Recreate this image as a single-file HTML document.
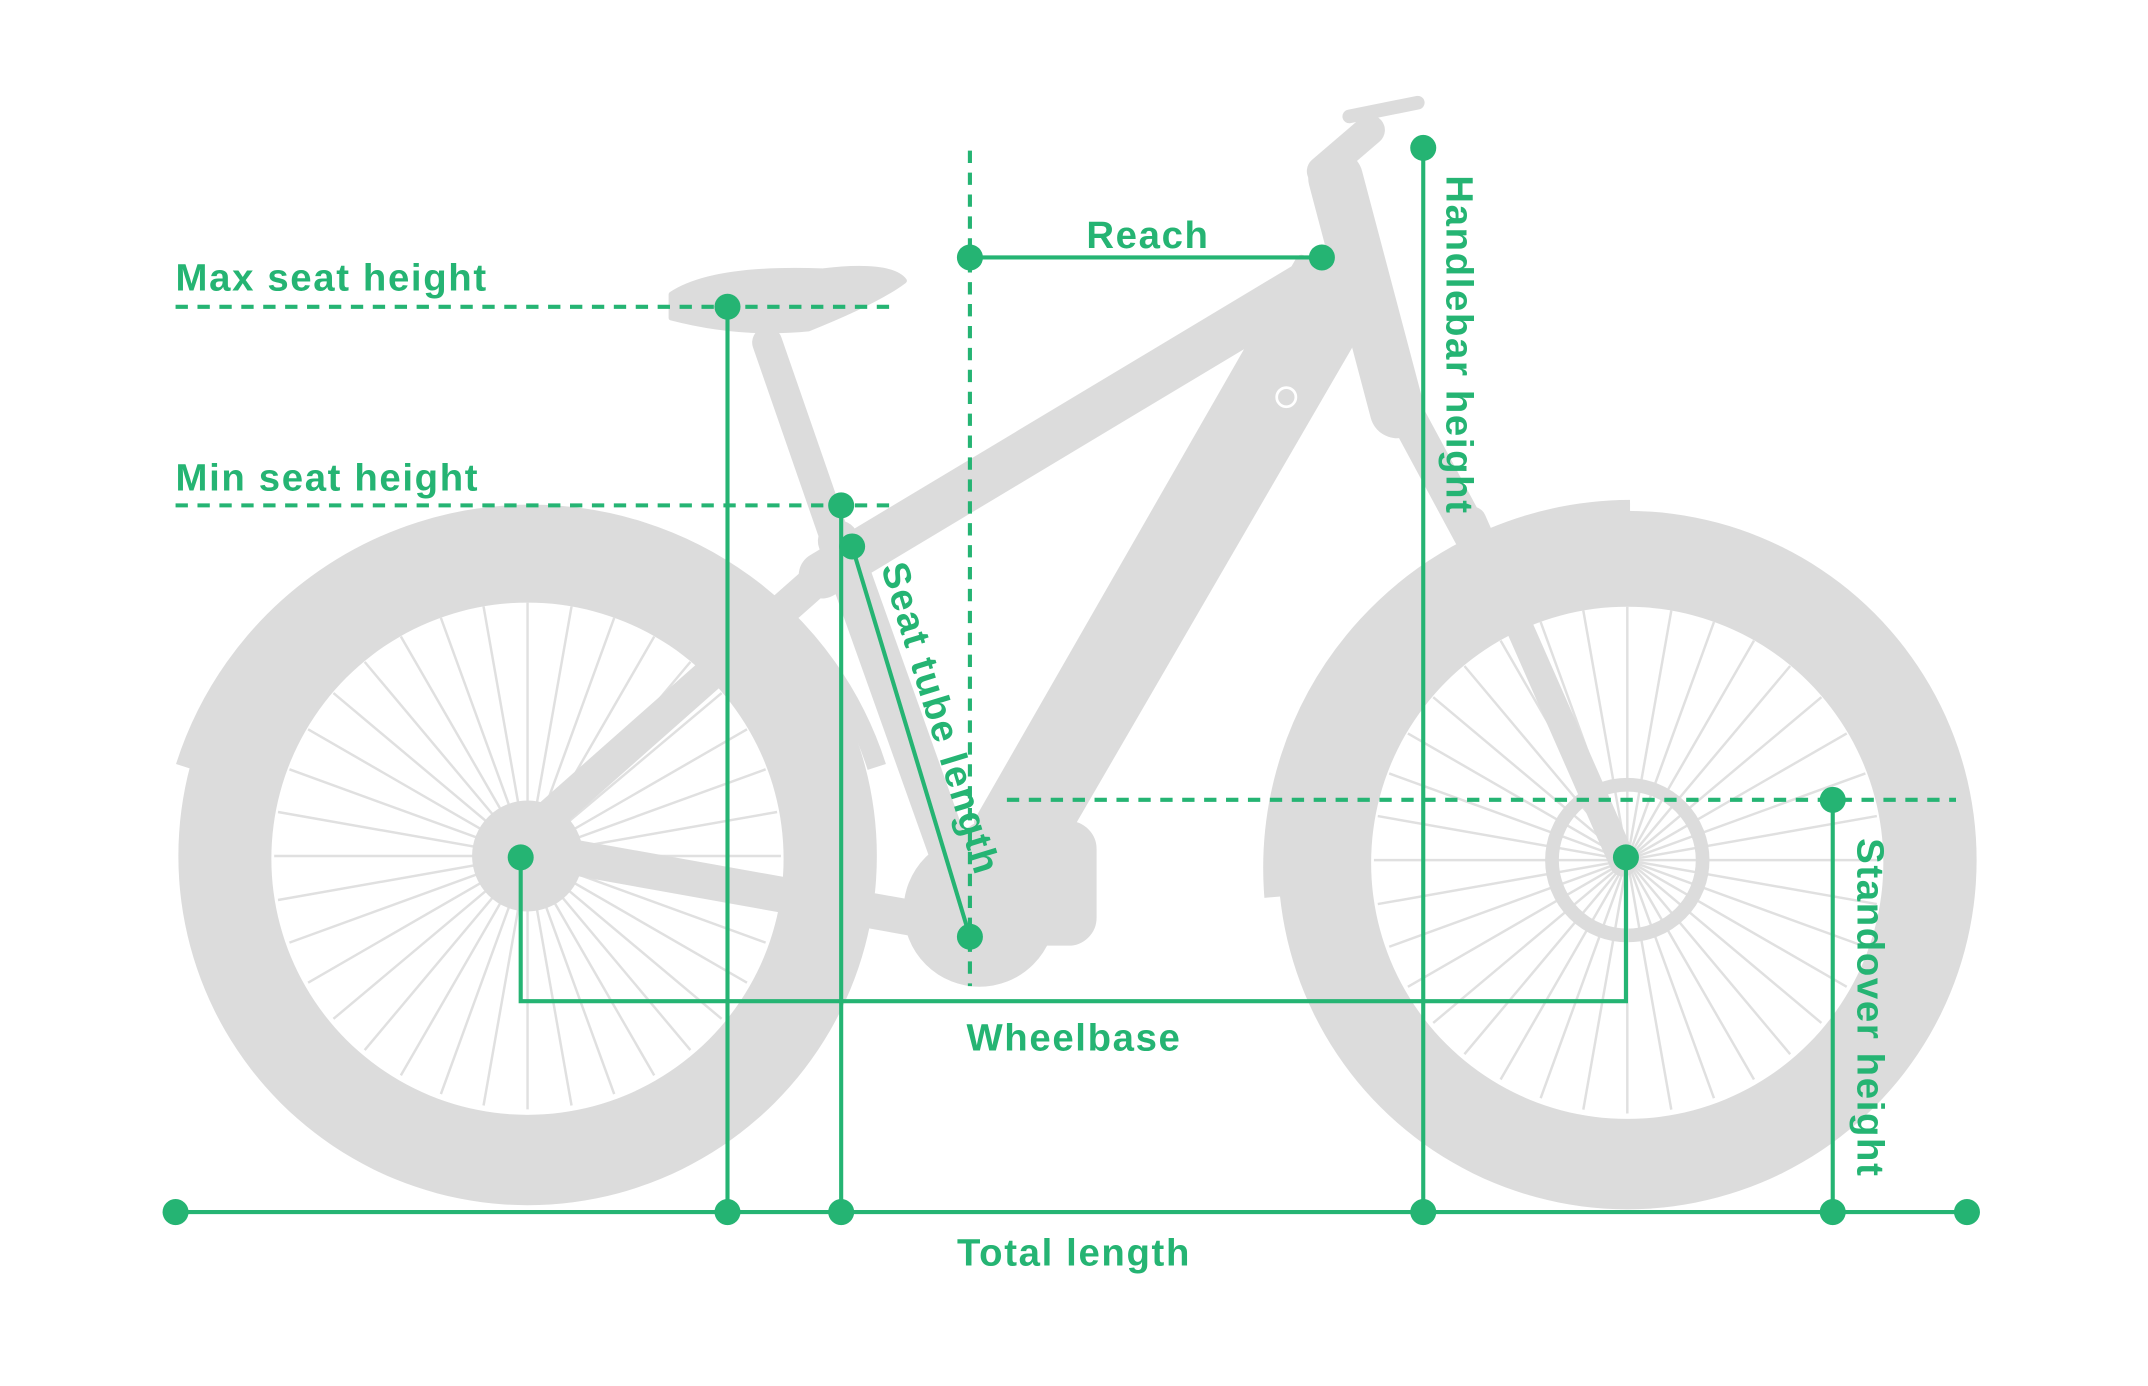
<!DOCTYPE html>
<html><head><meta charset="utf-8"><style>
html,body{margin:0;padding:0;background:#fff;}
svg{display:block;}
text{font-family:"Liberation Sans",sans-serif;font-weight:bold;fill:#25b473;font-size:28px;letter-spacing:1.2px;}
</style></head><body>
<svg width="2148" height="1386" viewBox="0 0 1568 1012" xmlns="http://www.w3.org/2000/svg">
<rect width="1568" height="1012" fill="#fff"/>
<g fill="#dcdcdc" stroke="none">
 <path fill-rule="evenodd" d="M385,370a255,255 0 1,0 0.1,0zM385,440a187,187 0 1,1 -0.1,0z"/>
 <path fill-rule="evenodd" d="M1188,373a255,255 0 1,0 0.1,0zM1188,443a187,187 0 1,1 -0.1,0z"/>
</g>
<g stroke="#e0e0e0" stroke-width="1.8">
 <g id="sp1">
  <line x1="385" y1="440" x2="385" y2="810"/>
  <line x1="385" y1="440" x2="385" y2="810" transform="rotate(10 385 625)"/>
  <line x1="385" y1="440" x2="385" y2="810" transform="rotate(20 385 625)"/>
  <line x1="385" y1="440" x2="385" y2="810" transform="rotate(30 385 625)"/>
  <line x1="385" y1="440" x2="385" y2="810" transform="rotate(40 385 625)"/>
  <line x1="385" y1="440" x2="385" y2="810" transform="rotate(50 385 625)"/>
  <line x1="385" y1="440" x2="385" y2="810" transform="rotate(60 385 625)"/>
  <line x1="385" y1="440" x2="385" y2="810" transform="rotate(70 385 625)"/>
  <line x1="385" y1="440" x2="385" y2="810" transform="rotate(80 385 625)"/>
  <line x1="385" y1="440" x2="385" y2="810" transform="rotate(90 385 625)"/>
  <line x1="385" y1="440" x2="385" y2="810" transform="rotate(100 385 625)"/>
  <line x1="385" y1="440" x2="385" y2="810" transform="rotate(110 385 625)"/>
  <line x1="385" y1="440" x2="385" y2="810" transform="rotate(120 385 625)"/>
  <line x1="385" y1="440" x2="385" y2="810" transform="rotate(130 385 625)"/>
  <line x1="385" y1="440" x2="385" y2="810" transform="rotate(140 385 625)"/>
  <line x1="385" y1="440" x2="385" y2="810" transform="rotate(150 385 625)"/>
  <line x1="385" y1="440" x2="385" y2="810" transform="rotate(160 385 625)"/>
  <line x1="385" y1="440" x2="385" y2="810" transform="rotate(170 385 625)"/>
 </g>
 <use href="#sp1" transform="translate(803,3)"/>
</g>
<path d="M135,560 A265,265 0 0,1 640,560" fill="none" stroke="#dcdcdc" stroke-width="14"/>
<path d="M930,655 A262,262 0 0,1 1190,372" fill="none" stroke="#dcdcdc" stroke-width="14"/>
<g fill="#dcdcdc" stroke="#dcdcdc" stroke-linecap="round" stroke-linejoin="round">
 <line x1="560" y1="250" x2="612" y2="400" stroke-width="22"/>
 <path d="M490,215 Q520,195 600,198 Q650,192 660,205 Q640,220 590,240 Q540,245 490,232Z" stroke-width="4"/>
 <line x1="612" y1="395" x2="710" y2="670" stroke-width="30"/>
 <line x1="600" y1="420" x2="975" y2="195" stroke-width="34"/>
 <polygon points="950,190 1005,215 770,620 715,600" stroke-width="8"/>
 <line x1="975" y1="130" x2="1020" y2="300" stroke-width="40"/>
 <line x1="965" y1="125" x2="1000" y2="95" stroke-width="22"/>
 <line x1="985" y1="85" x2="1035" y2="75" stroke-width="10"/>
 <line x1="1075" y1="380" x2="1185" y2="630" stroke-width="20"/>
 <line x1="1020" y1="290" x2="1090" y2="420" stroke-width="26"/>
 <line x1="385" y1="610" x2="600" y2="420" stroke-width="24"/>
 <line x1="385" y1="620" x2="720" y2="680" stroke-width="26"/>
 <circle cx="715" cy="665" r="55"/>
 <rect x="700" y="600" width="100" height="90" rx="20"/>
 <circle cx="385" cy="625" r="40"/>
 <circle cx="1188" cy="628" r="55" fill="none" stroke-width="10"/>
</g>
<circle cx="939" cy="290" r="7" fill="none" stroke="#fff" stroke-width="2"/>

<g stroke="#25b473" stroke-width="3" fill="none">
 <line x1="128" y1="224" x2="655" y2="224" stroke-dasharray="9,7"/>
 <line x1="128" y1="369" x2="655" y2="369" stroke-dasharray="9,7"/>
 <line x1="708" y1="110" x2="708" y2="720" stroke-dasharray="9,7"/>
 <line x1="735" y1="584" x2="1428" y2="584" stroke-dasharray="9,7"/>
 <line x1="708" y1="188" x2="965" y2="188"/>
 <line x1="1039" y1="108" x2="1039" y2="885"/>
 <line x1="531" y1="224" x2="531" y2="885"/>
 <line x1="614" y1="369" x2="614" y2="885"/>
 <line x1="622" y1="399" x2="708" y2="684"/>
 <polyline points="380,626 380,731 1187,731 1187,626"/>
 <line x1="1338" y1="584" x2="1338" y2="885"/>
 <line x1="128" y1="885" x2="1436" y2="885"/>
</g>
<g fill="#25b473">
 <circle cx="531" cy="224" r="9.5"/><circle cx="614" cy="369" r="9.5"/>
 <circle cx="622" cy="399" r="9.5"/><circle cx="708" cy="684" r="9.5"/>
 <circle cx="708" cy="188" r="9.5"/><circle cx="965" cy="188" r="9.5"/>
 <circle cx="1039" cy="108" r="9.5"/><circle cx="380" cy="626" r="9.5"/>
 <circle cx="1187" cy="626" r="9.5"/><circle cx="1338" cy="584" r="9.5"/>
 <circle cx="128" cy="885" r="9.5"/><circle cx="531" cy="885" r="9.5"/>
 <circle cx="614" cy="885" r="9.5"/><circle cx="1039" cy="885" r="9.5"/>
 <circle cx="1338" cy="885" r="9.5"/><circle cx="1436" cy="885" r="9.5"/>
</g>
<text x="128" y="212">Max seat height</text>
<text x="128" y="358">Min seat height</text>
<text x="838" y="181" text-anchor="middle">Reach</text>
<text x="784" y="767" text-anchor="middle">Wheelbase</text>
<text x="784" y="924" text-anchor="middle">Total length</text>
<text transform="translate(1056,128) rotate(90)">Handlebar height</text>
<text transform="translate(1356,612) rotate(90)">Standover height</text>
<text transform="translate(643,414) rotate(73)">Seat tube length</text>
</svg>
</body></html>
